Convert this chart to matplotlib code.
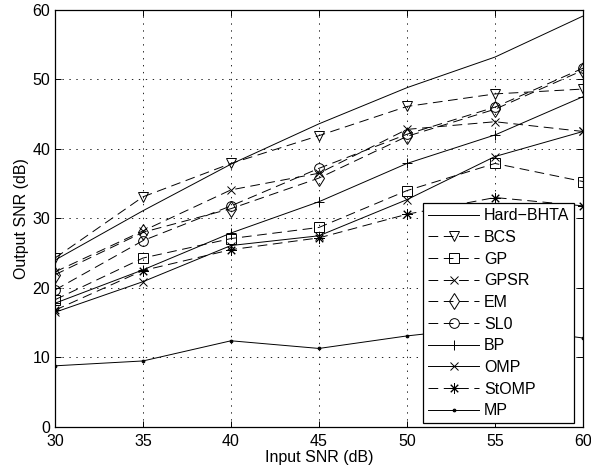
import numpy as np
import matplotlib
matplotlib.use("Agg")
import matplotlib.pyplot as plt

plt.rcParams['font.family'] = ['Liberation Sans', 'DejaVu Sans']
plt.rcParams['font.size'] = 11.5
plt.rcParams['lines.scale_dashes'] = False

# input SNR (dB)
snr_in = [30, 35, 40, 45, 50, 55, 60]

# output SNR (dB) for each recovery algorithm
hard_bhta = [24.0, 31.1, 37.8, 43.6, 48.8, 53.2, 59.1]
bcs = [24.3, 33.1, 37.9, 41.9, 46.1, 47.9, 48.6]
gp = [18.3, 24.3, 27.1, 28.7, 34.0, 37.9, 35.3]
gpsr = [22.3, 28.2, 34.1, 36.5, 42.8, 43.9, 42.5]
em = [21.9, 28.0, 31.4, 35.8, 41.8, 45.7, 51.3]
sl0 = [19.7, 26.8, 31.8, 37.2, 42.1, 46.0, 51.6]
bp = [17.8, 22.6, 27.9, 32.4, 37.9, 42.0, 47.5]
omp = [16.5, 20.9, 26.1, 27.5, 32.7, 38.9, 42.5]
stomp = [16.8, 22.5, 25.5, 27.2, 30.6, 33.0, 31.8]
mp = [8.8, 9.5, 12.4, 11.3, 13.1, 14.5, 12.8]

names = ['Hard\u2212BHTA', 'BCS', 'GP', 'GPSR', 'EM', 'SL0', 'BP', 'OMP', 'StOMP', 'MP']
series = [hard_bhta, bcs, gp, gpsr, em, sl0, bp, omp, stomp, mp]
# (8, 2, 0) is an eight-armed asterisk like a '+' over an 'x'
markers = ['', 'v', 's', 'x', 'd', 'o', '+', 'x', (8, 2, 0), '.']
sizes = [7, 7, 6.5, 6, 8.5, 7, 7.5, 6, 7.5, 4]
dashed = [False, True, True, True, True, True, False, False, True, False]

fig = plt.figure(figsize=(5.91, 4.72), dpi=100)
ax = fig.add_axes([0.093, 0.0953, 0.8935, 0.884])

for vals, name, mk, ms, ds in zip(series, names, markers, sizes, dashed):
    kw = dict(color='black', lw=0.7, marker=mk, mfc='none', mec='black',
              mew=0.7, ms=ms, label=name)
    if mk == '':
        kw.pop('marker')
    if mk == '.':
        kw['mfc'] = 'black'
    line, = ax.plot(snr_in, vals, **kw)
    if ds:
        line.set_dashes((7, 4))

ax.set_xlim(30, 60)
ax.set_ylim(0, 60)
ax.set_xticks(np.arange(30, 61, 5))
ax.set_yticks(np.arange(0, 61, 10))
ax.grid(True, color='black', linestyle=(0, (1, 4)), linewidth=0.6)
ax.tick_params(direction='in', top=True, right=True, length=4, width=0.7)
ax.tick_params(axis='x', pad=5)
for sp in ax.spines.values():
    sp.set_linewidth(0.9)
ax.set_xlabel('Input SNR (dB)', labelpad=1)
ax.set_ylabel('Output SNR (dB)', labelpad=2)

leg = ax.legend(loc='lower right', bbox_to_anchor=(0.983, 0.009),
                borderaxespad=0, fancybox=False, framealpha=1,
                edgecolor='black', handlelength=3.2, labelspacing=0.42,
                handletextpad=0.3, borderpad=0.3)
leg.get_frame().set_linewidth(0.9)

fig.savefig('out.png', dpi=100)
